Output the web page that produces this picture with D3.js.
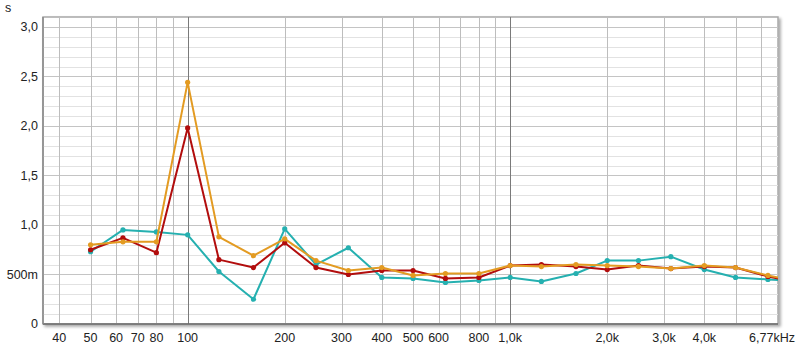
<!DOCTYPE html>
<html>
<head>
<meta charset="utf-8">
<script src="https://cdn.jsdelivr.net/npm/d3@7"></script>
<style>
  body { margin: 0; background: #fff; }
  text { font-family: "Liberation Sans", Arial, sans-serif; font-size: 12.5px; fill: #222; }
</style>
</head>
<body>
<div id="chart-container"></div>
<script>
// third-octave band centres (Hz)
const freqs = [50, 63, 80, 100, 125, 160, 200, 250, 315, 400, 500, 630, 800, 1000, 1250, 1600, 2000, 2500, 3150, 4000, 5000, 6300, 8000]

// reverberation times (s)
const tealValues   = [0.73, 0.95, 0.93, 0.90, 0.53, 0.25, 0.96, 0.60, 0.77, 0.47, 0.46, 0.42, 0.44, 0.47, 0.43, 0.51, 0.64, 0.64, 0.68, 0.55, 0.47, 0.45, 0.43]
const redValues    = [0.75, 0.87, 0.72, 1.98, 0.65, 0.57, 0.82, 0.57, 0.50, 0.54, 0.54, 0.46, 0.47, 0.59, 0.60, 0.58, 0.55, 0.59, 0.56, 0.58, 0.57, 0.48, 0.41]
const orangeValues = [0.80, 0.83, 0.83, 2.44, 0.88, 0.69, 0.86, 0.64, 0.54, 0.57, 0.49, 0.51, 0.51, 0.59, 0.58, 0.60, 0.59, 0.58, 0.56, 0.59, 0.57, 0.49, 0.42]

const yTicks = [0, 0.5, 1.0, 1.5, 2.0, 2.5, 3.0]
const yTickLabels = ["0", "500m", "1,0", "1,5", "2,0", "2,5", "3,0"]
const xTicks = [40, 50, 60, 70, 80, 100, 200, 300, 400, 500, 600, 800, 1000, 2000, 3000, 4000]
const xTickLabels = ["40", "50", "60", "70", "80", "100", "200", "300", "400", "500", "600", "800", "1,0k", "2,0k", "3,0k", "4,0k"]
const xEndLabel = "6,77kHz"
const yUnit = "s"

const series = [
    {name: "teal", values: tealValues, color: "#25b0b0"},
    {name: "red", values: redValues, color: "#b20d0d"},
    {name: "orange", values: orangeValues, color: "#e39b22"}
]

const margin = {top: 17, right: 22, bottom: 24, left: 43}
const W = 800, H = 348
const width = W - margin.left - margin.right
const height = H - margin.top - margin.bottom

const x = d3.scaleLog()
    .domain([35.6, 6770])
    .range([0, width])
const y = d3.scaleLinear()
    .domain([0, 3.1])
    .range([height, 0])

const root = d3.select("#chart-container")
    .append("svg")
        .attr("width", W)
        .attr("height", H)

const defs = root.append("defs")
const shadow = defs.append("filter").attr("id", "shadow")
    .attr("x", "-5%").attr("y", "-5%").attr("width", "110%").attr("height", "110%")
shadow.append("feDropShadow")
    .attr("dx", 2).attr("dy", 2).attr("stdDeviation", 1.5)
    .attr("flood-color", "#000").attr("flood-opacity", 0.35)
defs.append("clipPath").attr("id", "plotclip")
    .append("rect").attr("width", width).attr("height", height)

const svg = root.append("g")
    .attr("transform", `translate(${margin.left}, ${margin.top})`)

// frame with shadow
svg.append("rect")
    .attr("width", width).attr("height", height)
    .attr("fill", "#fff")
    .attr("stroke", "#a8a8a8")
    .attr("stroke-width", 1.5)
    .attr("filter", "url(#shadow)")

// horizontal grid every 0.1 s
const hLines = d3.range(1, 31).map(i => i / 10)
svg.append("g").selectAll("line")
    .data(hLines)
    .join("line")
        .attr("x1", 0).attr("x2", width)
        .attr("y1", d => Math.round(y(d)) + 0.5).attr("y2", d => Math.round(y(d)) + 0.5)
        .attr("stroke", (d, i) => (i + 1) % 5 === 0 ? "#c4c4c4" : "#e2e2e2")
        .attr("stroke-width", 1)

// vertical grid 1..9 per decade
const vLines = []
;[10, 100, 1000].forEach(dec => {
    for (let k = 1; k <= 9; k++) {
        const f = dec * k
        if (f > 35.6 && f < 6770) vLines.push(f)
    }
})
svg.append("g").selectAll("line")
    .data(vLines)
    .join("line")
        .attr("x1", d => Math.round(x(d)) + 0.5).attr("x2", d => Math.round(x(d)) + 0.5)
        .attr("y1", 0).attr("y2", height)
        .attr("stroke", d => (d === 100 || d === 1000) ? "#7a7a7a" : "#bdbdbd")
        .attr("stroke-width", 1)

// bottom axis line
svg.append("line")
    .attr("x1", 0).attr("x2", width)
    .attr("y1", height).attr("y2", height)
    .attr("stroke", "#6a6a6a").attr("stroke-width", 1.5)
svg.append("line")
    .attr("x1", 0).attr("x2", 0)
    .attr("y1", 0).attr("y2", height)
    .attr("stroke", "#8a8a8a").attr("stroke-width", 1.5)

// tick labels
svg.append("g").selectAll("text")
    .data(yTicks)
    .join("text")
        .attr("x", -5)
        .attr("y", d => y(d))
        .attr("dy", "0.35em")
        .attr("text-anchor", "end")
        .text((d, i) => yTickLabels[i])

svg.append("g").selectAll("text")
    .data(xTicks)
    .join("text")
        .attr("x", d => x(d))
        .attr("y", height + 18)
        .attr("text-anchor", "middle")
        .text((d, i) => xTickLabels[i])

svg.append("text")
    .attr("x", width - 6)
    .attr("y", height + 18)
    .attr("text-anchor", "middle")
    .text(xEndLabel)

root.append("text")
    .attr("x", 8)
    .attr("y", 12)
    .attr("text-anchor", "middle")
    .text(yUnit)

// series
const line = d3.line()
    .x((d, i) => x(freqs[i]))
    .y(d => y(d))

const plot = svg.append("g").attr("clip-path", "url(#plotclip)")

series.forEach(s => {
    plot.append("path")
        .datum(s.values)
        .attr("fill", "none")
        .attr("stroke", s.color)
        .attr("stroke-width", 2)
        .attr("stroke-linejoin", "round")
        .attr("d", line)

    plot.selectAll(".pt-" + s.name)
        .data(s.values)
        .join("circle")
            .attr("class", "pt-" + s.name)
            .attr("cx", (d, i) => x(freqs[i]))
            .attr("cy", d => y(d))
            .attr("r", 2.6)
            .attr("fill", s.color)
})
</script>
</body>
</html>
